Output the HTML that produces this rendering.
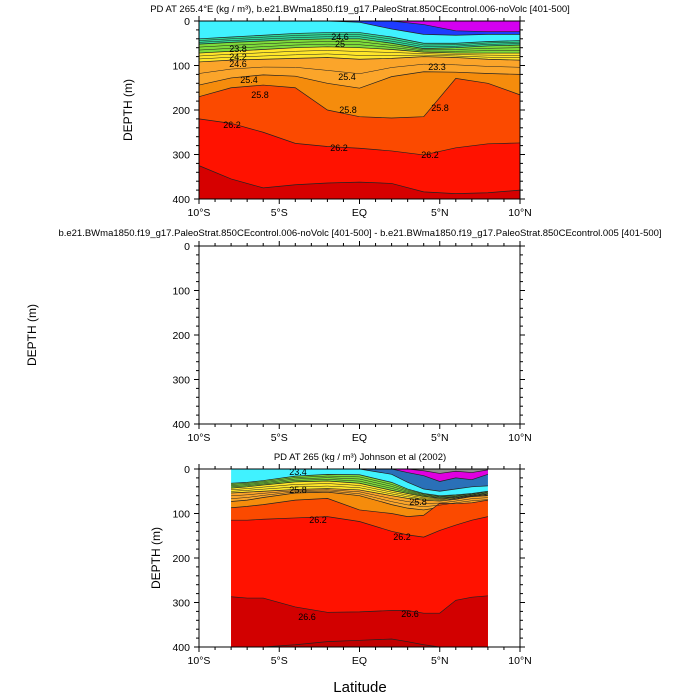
<!DOCTYPE html>
<html><head><meta charset="utf-8"><style>
html,body{margin:0;padding:0;background:#fff;}
svg{display:block;font-family:"Liberation Sans",sans-serif;}
</style></head><body>
<svg id="c" width="700" height="700" viewBox="0 0 700 700" xmlns="http://www.w3.org/2000/svg"></svg>
<script>
// ---- data ----
const lats1 = [-10,-8,-6,-4,-2,0,2,4,6,8,10];
const p1LtGreen = [40,36,32,28,26,26,36,50,50,46,44];
const p1Green   = [52,48,45,42,40,40,50,62,60,56,54];
const p1Yellow  = [72,68,64,60,58,60,64,70,72,72,72];
const p1LtOr    = [92,88,86,84,82,86,84,80,82,86,88];
const p1Or      = [144,128,121,124,140,151,125,114,115,118,120];
const p1OrRed   = [170,150,144,150,200,215,218,215,129,140,166];
const p1Red     = [220,230,250,275,282,286,292,301,285,276,274];
const p1DkRed   = [325,355,375,368,364,362,365,384,388,386,380];
const p1BlueTop = [0,0,0,0,0,3,18,30,32,30,30];
const p1PurpTop = [0,0,0,0,0,0,0,8,22,24,24];

const lats3 = [-8,-7,-6,-4,-2,0,2,3,4,5,6,7,8];
const p3Green   = [32,30,26,16,12,13,30,45,55,60,58,55,50];
const p3Yellow  = [43,40,36,29,27,32,48,55,62,66,64,60,56];
const p3LtOr    = [54,52,50,46,44,47,60,66,70,72,68,62,60];
const p3Or      = [73,70,64,54,52,60,80,88,92,86,80,76,73];
const p3OrRed   = [87,84,80,70,66,92,100,107,104,77,78,76,70];
const p3Red     = [115,115,113,110,107,118,140,148,153,138,126,115,107];
const p3DkRed   = [287,290,290,310,322,321,318,318,324,324,295,288,285];
const p3Deep    = [400,400,400,395,388,385,382,388,395,400,400,400,400];
const p3BlueTop = [0,0,0,0,0,0,12,30,45,50,45,40,38];
const p3PurpTop = [0,0,0,0,0,0,0,8,15,28,20,24,12];
const p3GrayTop = [0,0,0,0,0,0,0,0,4,10,5,8,2];
const xTicks = ["10°S","5°S","EQ","5°N","10°N"];
const yTicks = [0,100,200,300,400];

const S="http://www.w3.org/2000/svg", svg=document.getElementById('c');
function el(t,a,p){const e=document.createElementNS(S,t);for(const k in a)e.setAttribute(k,a[k]);(p||svg).appendChild(e);return e;}
function txt(x,y,s,size,anchor,p){const e=el('text',{x:x,y:y,'font-size':size,'text-anchor':anchor||'middle',fill:'#000'},p);e.textContent=s;return e;}

function panel(top,name){
  const P={x0:199,x1:520,y0:top,y1:top+178};
  P.sx=l=>P.x0+(l+10)/20*(P.x1-P.x0);
  P.sy=d=>P.y0+d/400*(P.y1-P.y0);
  P.g=el('g',{});
  
  
  return P;
}
function band(P,lats,tops,color,name,bottom){
  let d='M'+P.sx(lats[0])+','+P.sy(tops[0]);
  for(let i=1;i<lats.length;i++)d+=' L'+P.sx(lats[i])+','+P.sy(tops[i]);
  if(bottom){for(let i=lats.length-1;i>=0;i--)d+=' L'+P.sx(lats[i])+','+P.sy(bottom[i]);}
  else d+=' L'+P.sx(lats[lats.length-1])+','+P.y1+' L'+P.sx(lats[0])+','+P.y1;
  d+='Z';
  const e=el('path',{d:d,fill:color,stroke:'none'},P.g);
  
  
  const src=bottom||tops;
  let l='M'+P.sx(lats[0])+','+P.sy(src[0]);
  for(let i=1;i<lats.length;i++)l+=' L'+P.sx(lats[i])+','+P.sy(src[i]);
  el('path',{d:l,fill:'none',stroke:'#222','stroke-width':0.7},P.g);
}
function lines(P,lats,a,b,n){
  for(let k=1;k<n;k++){const f=k/n;let l='';
    for(let i=0;i<lats.length;i++){const v=a[i]+(b[i]-a[i])*f;l+=(i?' L':'M')+P.sx(lats[i])+','+P.sy(v);}
    el('path',{d:l,fill:'none',stroke:'#222','stroke-width':0.5},P.g);}
}
function axes(P,ytitleX){
  const g=el('g',{});
  
  
  el('rect',{x:P.x0,y:P.y0,width:P.x1-P.x0,height:P.y1-P.y0,fill:'none',stroke:'#000','stroke-width':1},g);
  for(let l=-10;l<=10;l++){const x=P.sx(l),L=(l%5===0)?5:3;
    el('line',{x1:x,y1:P.y1,x2:x,y2:P.y1+L,stroke:'#000'},g);
    el('line',{x1:x,y1:P.y0,x2:x,y2:P.y0-L,stroke:'#000'},g);}
  for(let d=0;d<=400;d+=20){const y=P.sy(d),L=(d%100===0)?5:3;
    el('line',{x1:P.x0,y1:y,x2:P.x0-L,y2:y,stroke:'#000'},g);
    el('line',{x1:P.x1,y1:y,x2:P.x1+L,y2:y,stroke:'#000'},g);}
  yTicks.forEach(v=>{const t=txt(190,P.sy(v)+4,String(v),10.5,'end',g);});
  xTicks.forEach((s,i)=>{const t=txt(P.sx(-10+5*i),P.y1+17,s,10.5,'middle',g);});
  const yt=txt(0,0,'DEPTH (m)',12,'middle',g);
  yt.setAttribute('transform','translate('+ytitleX+','+((P.y0+P.y1)/2)+') rotate(-90)');
  
  
}

// panel 1
const A=panel(21,'panel-model');
el('rect',{x:A.x0,y:A.y0,width:A.x1-A.x0,height:A.y1-A.y0,fill:'#40f2ff'},A.g);
band(A,lats1,p1LtGreen,'#30d898','band-teal');
band(A,lats1,p1Green,'#7edc3a','band-green');
band(A,lats1,p1Yellow,'#ffe62a','band-yellow');
band(A,lats1,p1LtOr,'#fba52a','band-light-orange');
band(A,lats1,p1Or,'#f58c0c','band-orange');
band(A,lats1,p1OrRed,'#fb4a00','band-orange-red');
band(A,lats1,p1Red,'#ff1200','band-red');
band(A,lats1,p1DkRed,'#d60000','band-dark-red');
lines(A,lats1,p1LtGreen,p1Green,3);lines(A,lats1,p1Green,p1Yellow,3);lines(A,lats1,p1Yellow,p1LtOr,3);lines(A,lats1,p1LtOr,p1Or,2);
band(A,lats1,lats1.map(()=>0),'#1e3cff','band-blue',p1BlueTop);
band(A,lats1,lats1.map(()=>0),'#d400f0','band-purple',p1PurpTop);
[[238,52,'23.8'],[238,60,'24.2'],[238,67,'24.6'],[249,83,'25.4'],[260,98,'25.8'],[340,40,'24.6'],[340,47,'25'],[347,80,'25.4'],[348,113,'25.8'],[437,70,'23.3'],[440,111,'25.8'],[232,128,'26.2'],[339,151,'26.2'],[430,158,'26.2']].forEach(v=>{
  const t=txt(v[0],v[1],v[2],9,'middle',A.g);});
axes(A,132);
txt(360,12,'PD AT 265.4°E (kg / m³), b.e21.BWma1850.f19_g17.PaleoStrat.850CEcontrol.006-noVolc [401-500]',9.5);

// panel 2
const B=panel(246,'panel-difference');
axes(B,36);
txt(360,236,'b.e21.BWma1850.f19_g17.PaleoStrat.850CEcontrol.006-noVolc [401-500] - b.e21.BWma1850.f19_g17.PaleoStrat.850CEcontrol.005 [401-500]',9.5);

// panel 3
const C=panel(469,'panel-observations');
const c0=C.sx(-8),c1=C.sx(8);
el('rect',{x:c0,y:C.y0,width:c1-c0,height:C.y1-C.y0,fill:'#40f2ff'},C.g);
band(C,lats3,p3Green,'#7edc3a','band-green');
band(C,lats3,p3Yellow,'#ffe62a','band-yellow');
band(C,lats3,p3LtOr,'#fba52a','band-light-orange');
band(C,lats3,p3Or,'#f58c0c','band-orange');
band(C,lats3,p3OrRed,'#fb4a00','band-orange-red');
band(C,lats3,p3Red,'#ff1200','band-red');
band(C,lats3,p3DkRed,'#d20000','band-dark-red');
band(C,lats3,p3Deep,'#c00000','band-deep');
lines(C,lats3,p3Green,p3Yellow,4);lines(C,lats3,p3Yellow,p3LtOr,3);lines(C,lats3,p3LtOr,p3Or,3);
band(C,lats3,lats3.map(()=>0),'#2a70b8','band-blue',p3BlueTop);
band(C,lats3,lats3.map(()=>0),'#e000e0','band-purple',p3PurpTop);
band(C,lats3,lats3.map(()=>0),'#909090','band-gray',p3GrayTop);
[[298,493,'25.8'],[318,523,'26.2'],[402,540,'26.2'],[307,620,'26.6'],[410,617,'26.6'],[418,505,'25.8'],[298,475,'23.4']].forEach(v=>{
  const t=txt(v[0],v[1],v[2],9,'middle',C.g);});
axes(C,160);
txt(360,460,'PD AT 265 (kg / m³) Johnson et al (2002)',9.5);
const xl=txt(360,692,'Latitude',15);


</script>
</body></html>
